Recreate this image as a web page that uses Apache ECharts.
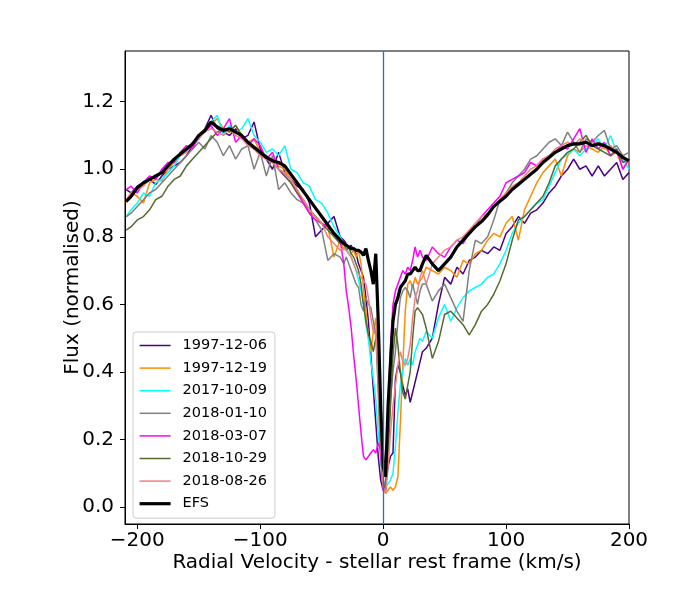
<!DOCTYPE html>
<html>
<head>
<meta charset="utf-8">
<script src="https://cdn.jsdelivr.net/npm/echarts@6/dist/echarts.min.js"></script>
<style>
html,body{margin:0;padding:0;background:#fff;}
#chart{width:682px;height:606px;}
</style>
</head>
<body>
<div id="chart"></div>
<script>
// Velocity grid (km/s, stellar rest frame)
const velocity = [-209,-205,-200,-195,-190,-185,-180,-175,-170,-165,-160,-155,-150,-145,-140,-135,-130,-125,-120,-115,-110,-105,-100,-95,-90,-85,-80,-75,-70,-65,-60,-55,-50,-45,-40,-35,
-32,-30,-28,-26,-24,-22,-20,-18,-16,-14,-12,-10,-8,-6,-4,-2,0,2,4,6,8,10,12,14,16,18,20,22,24,26,28,30,32,
35,40,45,50,55,60,65,70,75,80,85,90,95,100,105,110,115,120,125,130,135,140,145,150,155,160,165,170,175,180,185,190,195,200];

const flux_19971206 = [.94,.93,.95,.96,.97,.955,.98,1.00,1.01,1.02,1.04,1.07,1.09,1.12,1.16,1.12,1.11,1.10,1.12,1.09,1.10,1.14,1.06,1.03,1.00,1.05,.99,.97,.95,.94,.90,.80,.82,.84,.86,.80,
.79,.78,.77,.775,.76,.75,.72,.70,.68,.62,.55,.45,.35,.25,.15,.08,.05,.06,.12,.15,.16,.38,.42,.40,.36,.33,.35,.31,.34,.37,.40,.43,.46,
.47,.50,.60,.68,.66,.71,.69,.73,.74,.76,.75,.77,.76,.81,.83,.86,.84,.87,.88,.90,.93,.95,.98,1.00,1.03,1.00,1.01,.98,1.01,.98,1.00,1.02,.97,.99];

const flux_19971219 = [.90,.93,.92,.90,.96,.97,.965,1.00,1.02,1.04,1.06,1.07,1.10,1.12,1.13,1.15,1.12,1.11,1.13,1.10,1.08,1.09,1.05,1.04,1.03,1.01,1.00,.97,.94,.90,.88,.86,.84,.83,.74,.79,
.76,.78,.77,.75,.76,.74,.76,.72,.65,.58,.50,.46,.52,.56,.35,.15,.06,.04,.05,.06,.05,.06,.09,.25,.42,.58,.66,.67,.65,.68,.66,.67,.68,
.71,.70,.69,.71,.70,.68,.73,.72,.75,.76,.79,.81,.80,.84,.86,.79,.88,.92,.96,.99,1.01,1.03,.98,1.04,1.06,1.05,1.07,1.06,1.05,1.07,1.04,1.05,1.00,1.03];

const flux_20171009 = [.86,.88,.90,.93,.92,.96,.97,.99,1.01,1.04,1.06,1.08,1.09,1.12,1.14,1.16,1.10,1.13,1.11,1.12,1.15,1.10,1.08,1.05,1.06,1.04,1.07,1.00,.99,.96,.95,.91,.90,.87,.83,.80,
.78,.77,.75,.74,.72,.70,.67,.64,.60,.54,.50,.43,.38,.32,.22,.14,.08,.06,.07,.08,.10,.18,.28,.36,.40,.44,.42,.44,.42,.46,.48,.50,.49,
.52,.50,.56,.60,.55,.59,.62,.64,.65,.66,.68,.69,.72,.76,.81,.84,.86,.88,.90,.91,.95,.99,1.03,1.045,1.06,1.04,1.06,1.07,1.09,1.06,1.10,1.05,1.03,1.00];

const flux_20180110 = [.86,.87,.89,.91,.93,.94,.96,.98,1.00,1.02,1.04,1.06,1.08,1.06,1.10,1.08,1.04,1.07,1.03,1.06,1.07,1.00,1.05,.98,1.04,.94,.96,.93,.91,.90,.87,.85,.82,.73,.75,.74,
.72,.74,.72,.70,.68,.66,.65,.60,.58,.62,.60,.59,.55,.51,.35,.15,.05,.08,.20,.32,.40,.46,.55,.62,.64,.65,.64,.62,.66,.63,.60,.64,.66,
.66,.61,.64,.66,.62,.58,.55,.70,.79,.78,.80,.85,.91,.93,.96,.98,1.00,1.03,1.04,1.06,1.08,1.09,1.07,1.11,1.08,1.05,1.09,1.08,1.10,1.115,1.06,1.07,1.04,1.05];

const flux_20180307 = [.94,.95,.93,.96,.98,.97,1.00,1.02,1.02,1.05,1.07,1.06,1.10,1.11,1.13,1.10,1.12,1.15,1.08,1.10,1.07,1.09,1.07,1.03,1.05,1.00,.98,.96,.93,.90,.87,.85,.84,.83,.81,.79,
.72,.64,.59,.53,.45,.38,.30,.22,.15,.14,.15,.16,.17,.16,.19,.17,.05,.05,.28,.48,.60,.64,.66,.68,.70,.69,.71,.70,.73,.77,.74,.76,.74,
.73,.77,.75,.74,.77,.79,.78,.81,.83,.86,.88,.90,.92,.96,.97,.98,.99,1.02,1.01,1.03,1.04,1.05,1.07,1.06,1.09,1.12,1.05,1.09,1.06,1.08,1.04,1.06,1.00,1.03];

const flux_20181029 = [.82,.83,.85,.86,.88,.91,.92,.95,.97,.98,1.01,1.03,1.05,1.07,1.09,1.11,1.12,1.11,1.13,1.10,1.08,1.06,1.05,1.04,1.02,1.00,.98,.96,.93,.91,.88,.86,.84,.82,.80,.78,
.78,.76,.77,.75,.74,.72,.70,.66,.60,.55,.51,.49,.46,.50,.52,.30,.07,.05,.15,.30,.45,.53,.48,.40,.34,.32,.36,.40,.50,.58,.59,.58,.57,
.53,.44,.49,.57,.58,.56,.54,.51,.54,.58,.60,.63,.67,.72,.79,.85,.86,.88,.90,.92,.96,1.01,1.03,1.05,1.06,1.08,1.10,1.07,1.06,1.05,1.04,1.06,1.02,1.03];

const flux_20180826 = [.91,.93,.94,.95,.97,.98,.99,1.00,1.03,1.04,1.05,1.08,1.09,1.11,1.12,1.11,1.10,1.12,1.10,1.09,1.07,1.06,1.04,1.03,1.02,1.00,.99,.97,.94,.91,.88,.86,.84,.80,.78,.76,
.77,.76,.75,.74,.72,.70,.69,.68,.67,.66,.62,.56,.52,.51,.40,.20,.06,.04,.12,.22,.30,.36,.42,.46,.43,.42,.44,.48,.56,.62,.64,.68,.70,
.66,.72,.74,.76,.77,.79,.80,.82,.84,.86,.87,.89,.91,.93,.95,.96,.98,1.00,1.01,1.03,1.04,1.06,1.07,1.08,1.07,1.09,1.08,1.07,1.08,1.06,1.07,1.05,1.04,1.02];

const flux_EFS = [.905,.92,.945,.96,.97,.98,.99,1.01,1.03,1.045,1.06,1.075,1.10,1.115,1.14,1.125,1.115,1.12,1.11,1.10,1.08,1.065,1.05,1.035,1.025,1.02,1.01,.985,.96,.935,.91,.885,.86,.835,.81,.79,
.78,.775,.77,.765,.765,.76,.76,.755,.745,.765,.73,.70,.66,.75,.55,.30,.12,.09,.30,.43,.55,.60,.62,.65,.66,.67,.69,.69,.70,.71,.70,.70,.72,
.745,.72,.70,.72,.74,.77,.79,.81,.83,.845,.865,.89,.905,.92,.94,.955,.97,.985,1.00,1.02,1.035,1.05,1.06,1.07,1.075,1.075,1.08,1.07,1.075,1.07,1.06,1.05,1.035,1.025];

const seriesNames = ['1997-12-06','1997-12-19','2017-10-09','2018-01-10','2018-03-07','2018-10-29','2018-08-26','EFS'];
const seriesFlux = [flux_19971206, flux_19971219, flux_20171009, flux_20180110, flux_20180307, flux_20181029, flux_20180826, flux_EFS];
const seriesColors = ['#4B0082','#FF8C00','#00FFFF','#808080','#FF00FF','#556B2F','#F08080','#000000'];

const xTicks = [-200,-100,0,100,200];
const yTicks = [0,0.2,0.4,0.6,0.8,1.0,1.2];

const FONT = 'DejaVu Sans';
const chart = echarts.init(document.getElementById('chart'), null, {renderer:'canvas'});

const lineWidth = name => name === 'EFS' ? 3.2 : 1.5;

const series = seriesNames.map((name, i) => {
  const s = {
    name: name,
    type: 'line',
    data: velocity.map((v, k) => [v, seriesFlux[i][k]]),
    showSymbol: false,
    symbol: 'none',
    lineStyle: {color: seriesColors[i], width: lineWidth(name)},
    itemStyle: {color: seriesColors[i]},
    emphasis: {disabled: true},
    animation: false
  };
  if (i === 0) {
    s.markLine = {
      silent: true,
      symbol: ['none','none'],
      label: {show: false},
      lineStyle: {color: '#1f77b4', width: 1.3, type: 'solid'},
      data: [{xAxis: 0}]
    };
  }
  return s;
});

chart.setOption({
  animation: false,
  backgroundColor: '#fff',
  grid: {left: 125, top: 51, width: 504, height: 473, show: true, borderColor: '#000', borderWidth: 1, backgroundColor: 'transparent'},
  xAxis: {
    type: 'value', min: -210, max: 200,
    name: 'Radial Velocity - stellar rest frame (km/s)',
    nameLocation: 'middle', nameGap: 29, nameMoveOverlap: false,
    nameTextStyle: {fontFamily: FONT, fontSize: 20, color: '#000'},
    axisLine: {show: true, onZero: false, lineStyle: {color: '#000', width: 1}},
    axisTick: {show: true, inside: false, length: 5, lineStyle: {color: '#000'}, customValues: xTicks},
    axisLabel: {fontFamily: FONT, fontSize: 20, color: '#000', margin: 7, customValues: xTicks,
      showMinLabel: true, showMaxLabel: true,
      formatter: v => v < 0 ? '\u2212' + Math.abs(v) : String(v)},
    splitLine: {show: false}
  },
  yAxis: {
    type: 'value', min: -0.05, max: 1.35,
    name: 'Flux (normalised)',
    nameLocation: 'middle', nameGap: 42, nameRotate: 90, nameMoveOverlap: false,
    nameTextStyle: {fontFamily: FONT, fontSize: 20, color: '#000'},
    axisLine: {show: true, onZero: false, lineStyle: {color: '#000', width: 1}},
    axisTick: {show: true, inside: false, length: 5, lineStyle: {color: '#000'}, customValues: yTicks},
    axisLabel: {fontFamily: FONT, fontSize: 20, color: '#000', margin: 11, customValues: yTicks,
      formatter: v => v.toFixed(1)},
    splitLine: {show: false}
  },
  legend: {
    data: seriesNames.map((name, i) => ({name: name, lineStyle: {color: seriesColors[i], width: lineWidth(name)}})),
    orient: 'vertical',
    left: 133, top: 332,
    itemWidth: 31, itemHeight: 3, itemGap: 7.6,
    padding: [6, 8, 7, 5],
    backgroundColor: 'rgba(255,255,255,0.8)',
    borderColor: '#cccccc', borderWidth: 1, borderRadius: 3,
    itemStyle: {opacity: 0},
    textStyle: {fontFamily: FONT, fontSize: 14.5, color: '#000', padding: [0,0,0,7]},
    selectedMode: false
  },
  series: series
});
</script>
</body>
</html>
